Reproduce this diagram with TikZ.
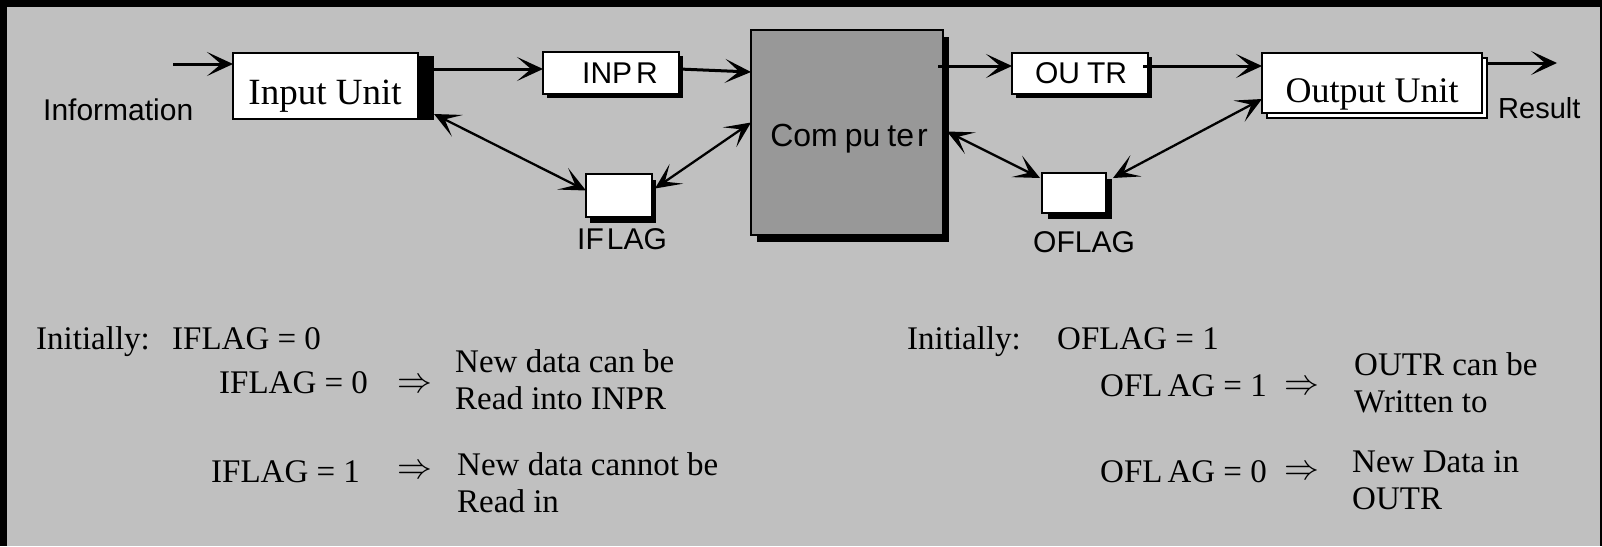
\documentclass[tikz,border=0pt]{standalone}
\usepackage{fontspec}
\usepackage{graphicx}
\setmainfont{Liberation Serif}
\newfontfamily\arialfont{Liberation Sans}
\usetikzlibrary{arrows.meta,calc}
\definecolor{bg}{RGB}{192,192,192}
\definecolor{cpufill}{RGB}{152,152,152}
\newcommand{\impl}{{\fontsize{24.88}{28}\selectfont\scalebox{1.4}[1.45]{$\Rightarrow$}}}

\begin{document}
\begin{tikzpicture}[x=1pt,y=-1pt,
  box/.style={draw=black,line width=2pt,fill=white,inner sep=0pt,outer sep=0pt},
  lbl/.style={font=\arialfont\fontsize{30}{34}\selectfont,inner sep=0pt},
  serifbig/.style={font=\fontsize{37}{40}\selectfont,inner sep=0pt,anchor=base},
  txt/.style={font=\fontsize{33}{38}\selectfont,inner sep=0pt,anchor=base west},
  implies/.style={inner sep=0pt,anchor=base west},
  tip/.tip={Stealth[length=26pt,width=24pt,inset=14pt]},
  arr/.style={line width=3pt,-tip},
  dbl/.style={line width=2.3pt,tip-tip}
]
% frame and background
\useasboundingbox (0,0) rectangle (1602,546);
\fill[black] (0,0) rectangle (1602,546);
\fill[bg] (7,7) rectangle (1600,546);

% shadows
\fill[black] (414,56) rectangle (434,120);
\fill[black] (547,56) rectangle (683,98);
\fill[black] (757,37) rectangle (949,242);
\fill[black] (1016,57) rectangle (1152,98);
\fill[black] (590,180) rectangle (656,223);
\fill[black] (1048,179) rectangle (1112,219);
\draw[line width=2pt,fill=white] (1267,58) rectangle (1487,118);

% boxes
\node[box,minimum width=185pt,minimum height=66pt] (inunit) at (325.5,86) {};
\node[serifbig] (inunittext) at (325,104) {Input Unit};
\node[box,minimum width=136pt,minimum height=42pt] (inpr) at (611,73) {};
\node[lbl] (inprtext) at (620,73) {INP\kern4pt R};
\node[box,fill=cpufill,minimum width=192pt,minimum height=205pt] (cpu) at (847,132.5) {};
\node[lbl,font=\arialfont\fontsize{32}{36}\selectfont] (cputext) at (849,139) {Com\kern7pt pu\kern7pt te\kern3pt r};
\node[box,minimum width=136pt,minimum height=41pt] (outr) at (1080,73.5) {};
\node[lbl] (outrtext) at (1081,73.5) {OU\kern7pt TR};
\node[box,minimum width=220pt,minimum height=60pt] (outunit) at (1372,83) {};
\node[serifbig,font=\fontsize{36}{40}\selectfont] (outunittext) at (1372,102) {Output Unit};
\node[box,minimum width=66pt,minimum height=43pt] (iflag) at (619,195.5) {};
\node[box,minimum width=64pt,minimum height=40pt] (oflag) at (1074,193) {};

% labels
\node[lbl] (iflaglbl) at (622,239) {IF\kern3pt LAG};
\node[lbl] (oflaglbl) at (1084,242) {OFLAG};
\node[lbl,anchor=west] (info) at (43,110) {Information};
\node[lbl,anchor=west,font=\arialfont\fontsize{29}{34}\selectfont] (res) at (1498,108) {Result};

% connectors
\coordinate (infoStart) at (173,64);
\coordinate (resEnd) at (1557,63);
\draw[arr] (infoStart) -- ($(inunit.west)+(0,-22)$);
\draw[arr] ($(inunit.east)+(16,-17)$) -- ($(inpr.west)+(0,-4)$);
\draw[arr] ($(inpr.east)+(0,-4)$) -- ($(cpu.west)+(0,-60.5)$);
\draw[arr] ($(cpu.east)+(-5,-66.5)$) -- ($(outr.west)+(0,-7.5)$);
\draw[arr] ($(outr.east)+(-5,-7.5)$) -- ($(outunit.west)+(0,-17)$);
\draw[arr] ($(outunit.east)+(5,-20)$) -- (resEnd);
\draw[dbl] ($(inunit.east)+(16,28)$) -- ($(iflag.west)+(0,-5)$);
\draw[dbl] ($(iflag.east)+(3,-7)$) -- ($(cpu.west)+(0,-10)$);
\draw[dbl] ($(cpu.east)+(4,-1)$) -- ($(oflag.west)+(-2,-15)$);
\draw[dbl] ($(oflag.east)+(7,-15)$) -- ($(outunit.west)+(0,16)$);

% input flag rules
\node[txt] (li0) at (36,349) {Initially:};
\node[txt] (li1) at (172,349) {IFLAG = 0};
\node[txt] (li2) at (219,393) {IFLAG = 0};
\node[implies] (la2) at (397,392) {\impl};
\node[txt] (lt2a) at (455,372) {New data can be};
\node[txt] (lt2b) at (455,409) {Read into INPR};
\node[txt] (li3) at (211,482) {IFLAG = 1};
\node[implies] (la3) at (397,478) {\impl};
\node[txt] (lt3a) at (457,475) {New data cannot be};
\node[txt] (lt3b) at (457,512) {Read in};

% output flag rules
\node[txt] (ro0) at (907,349) {Initially:};
\node[txt] (ro1) at (1057,349) {OFLAG = 1};
\node[txt] (ro2) at (1100,396) {OFL\kern5pt AG = 1};
\node[implies] (ra2) at (1284,394) {\impl};
\node[txt] (rt2a) at (1354,375) {OUTR can be};
\node[txt] (rt2b) at (1354,412) {Written to};
\node[txt] (ro3) at (1100,482) {OFL\kern5pt AG = 0};
\node[implies] (ra3) at (1284,479) {\impl};
\node[txt] (rt3a) at (1352,472) {New Data in};
\node[txt] (rt3b) at (1352,509) {OUTR};
\end{tikzpicture}
\end{document}
